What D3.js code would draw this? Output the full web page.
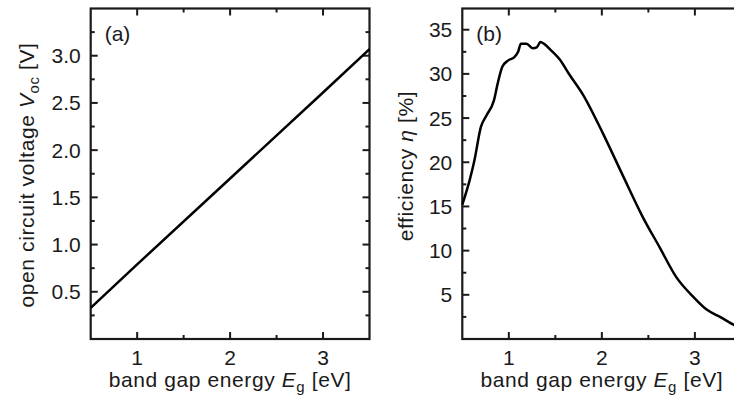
<!DOCTYPE html>
<html>
<head>
<meta charset="utf-8">
<script src="https://cdn.jsdelivr.net/npm/d3@7"></script>
<style>
  body { margin: 0; background: #fff; overflow: hidden; }
  svg text { font-family: "Liberation Sans", Arial, sans-serif; fill: #1a1a1a; }
</style>
</head>
<body>
<svg id="chart" width="734" height="405"></svg>
<script>
// panel (a): open circuit voltage vs band gap
var egA = [0.5, 1.0, 2.0, 3.0, 3.5];
var voc = [0.33, 0.79, 1.70, 2.61, 3.07];

// panel (b): efficiency vs band gap
var egB = [0.50, 0.58, 0.63, 0.70, 0.76, 0.84, 0.88, 0.93, 0.99, 1.06, 1.10, 1.13, 1.19, 1.26, 1.30,
           1.34, 1.38, 1.46, 1.55, 1.64, 1.80, 2.01, 2.23, 2.44, 2.62, 2.80, 2.98, 3.13, 3.27, 3.42, 3.50];
var eff = [15.2, 18.0, 20.2, 24.0, 25.3, 27.0, 28.9, 30.8, 31.5, 31.9, 32.5, 33.4, 33.4, 32.9, 33.0,
           33.6, 33.4, 32.6, 31.6, 30.1, 27.6, 23.3, 18.4, 13.8, 10.4, 7.0, 4.8, 3.3, 2.5, 1.6, 1.2];

var xTicks = [1, 2, 3];
var xMinor = [1.5, 2.5];
var yTicksA = [0.5, 1.0, 1.5, 2.0, 2.5, 3.0];
var yMinorA = [0.25, 0.75, 1.25, 1.75, 2.25, 2.75, 3.25];
var yTicksB = [5, 10, 15, 20, 25, 30, 35];
var yMinorB = [2.5, 7.5, 12.5, 17.5, 22.5, 27.5, 32.5];

var svg = d3.select("#chart");

function drawPanel(opt){
  var x = d3.scaleLinear().domain([0.5, 3.5]).range([opt.left, opt.right]);
  var y = d3.scaleLinear().domain(opt.ydom).range([339, 8.5]);
  var g = svg.append("g");

  var tick = function(vals, len, side){
    vals.forEach(function(v){
      if(side == "b") g.append("line").attr("x1", x(v)).attr("x2", x(v)).attr("y1", 339).attr("y2", 339 - len);
      if(side == "t") g.append("line").attr("x1", x(v)).attr("x2", x(v)).attr("y1", 8.5).attr("y2", 8.5 + len);
      if(side == "l") g.append("line").attr("y1", y(v)).attr("y2", y(v)).attr("x1", opt.left).attr("x2", opt.left + len);
      if(side == "r") g.append("line").attr("y1", y(v)).attr("y2", y(v)).attr("x1", opt.right).attr("x2", opt.right - len);
    });
  };
  tick(xTicks, 7, "b"); tick(xMinor, 4, "b");
  tick(xTicks, 7, "t"); tick(xMinor, 4, "t");
  tick(opt.yt, 7, "l"); tick(opt.ym, 4, "l");
  tick(opt.yt, 7, "r"); tick(opt.ym, 4, "r");
  g.selectAll("line").attr("stroke", "#1a1a1a").attr("stroke-width", 2);

  g.append("rect")
    .attr("x", opt.left).attr("y", 8.5)
    .attr("width", opt.right - opt.left).attr("height", 339 - 8.5)
    .attr("fill", "none").attr("stroke", "#1a1a1a").attr("stroke-width", 2.2);

  g.selectAll(".xl").data(xTicks).enter().append("text")
    .attr("x", function(d){ return x(d); }).attr("y", 364.5)
    .attr("text-anchor", "middle").style("font-size", "21px")
    .text(function(d){ return d; });

  g.selectAll(".yl").data(opt.yt).enter().append("text")
    .attr("x", opt.left - 10).attr("y", function(d){ return y(d) + 7.5; })
    .attr("text-anchor", "end").style("font-size", "21px")
    .text(opt.fmt);

  var line = d3.line()
    .x(function(d){ return x(d[0]); })
    .y(function(d){ return y(d[1]); })
    .curve(opt.curve);
  g.append("path")
    .datum(opt.xs.map(function(v, i){ return [v, opt.ys[i]]; }))
    .attr("fill", "none").attr("stroke", "#000")
    .attr("stroke-width", 2.5).attr("stroke-linejoin", "round")
    .attr("d", line);

  g.append("text").attr("x", opt.left + 14).attr("y", 41)
    .style("font-size", "21px").text(opt.tag);

  // x axis title
  var xt = g.append("text").attr("x", (opt.left + opt.right) / 2).attr("y", 387)
    .attr("text-anchor", "middle").style("font-size", "21px").style("letter-spacing", "0.6px");
  xt.append("tspan").text("band gap energy ");
  xt.append("tspan").style("font-style", "italic").text("E");
  xt.append("tspan").attr("dy", 5).style("font-size", "15px").text("g");
  xt.append("tspan").attr("dy", -5).text(" [eV]");

  // y axis title
  var yt = g.append("text")
    .attr("transform", "translate(" + opt.ytx + "," + opt.yty + ") rotate(-90)")
    .attr("text-anchor", "middle").style("font-size", "21px").style("letter-spacing", "0.6px");
  opt.ytitle(yt);
}

drawPanel({
  left: 90.7, right: 369.5, ydom: [0, 3.5],
  yt: yTicksA, ym: yMinorA, fmt: function(d){ return d.toFixed(1); },
  xs: egA, ys: voc, curve: d3.curveLinear, tag: "(a)",
  ytx: 34, yty: 175,
  ytitle: function(t){
    t.append("tspan").text("open circuit voltage ");
    t.append("tspan").style("font-style", "italic").text("V");
    t.append("tspan").attr("dy", 5).style("font-size", "15px").text("oc");
    t.append("tspan").attr("dy", -5).text(" [V]");
  }
});

drawPanel({
  left: 462.3, right: 741.4, ydom: [0, 37.4],
  yt: yTicksB, ym: yMinorB, fmt: function(d){ return d; },
  xs: egB, ys: eff, curve: d3.curveMonotoneX, tag: "(b)",
  ytx: 413, yty: 166,
  ytitle: function(t){
    t.append("tspan").text("efficiency ");
    t.append("tspan").style("font-style", "italic").text("η");
    t.append("tspan").text(" [%]");
  }
});
</script>
</body>
</html>
